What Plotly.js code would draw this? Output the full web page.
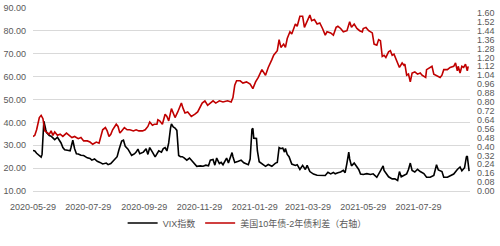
<!DOCTYPE html>
<html><head><meta charset="utf-8">
<script src="https://cdn.plot.ly/plotly-3.0.1.min.js"></script>
<style>html,body{margin:0;padding:0;background:#fff}#chart{width:500px;height:246px}</style>
</head><body><div id="chart"></div>
<script>
const vixDates = ['2020-05-29','2020-05-31','2020-06-02','2020-06-05','2020-06-07','2020-06-08','2020-06-10','2020-06-12','2020-06-13','2020-06-16','2020-06-18','2020-06-20','2020-06-22','2020-06-25','2020-06-27','2020-06-29','2020-07-01','2020-07-03','2020-07-06','2020-07-09','2020-07-10','2020-07-12','2020-07-14','2020-07-16','2020-07-18','2020-07-21','2020-07-24','2020-07-28','2020-07-31','2020-08-02','2020-08-05','2020-08-08','2020-08-11','2020-08-14','2020-08-18','2020-08-20','2020-08-23','2020-08-27','2020-08-30','2020-09-01','2020-09-04','2020-09-06','2020-09-08','2020-09-11','2020-09-15','2020-09-18','2020-09-20','2020-09-22','2020-09-24','2020-09-28','2020-10-01','2020-10-03','2020-10-05','2020-10-08','2020-10-11','2020-10-15','2020-10-18','2020-10-20','2020-10-22','2020-10-24','2020-10-26','2020-10-28','2020-10-29','2020-10-31','2020-11-02','2020-11-04','2020-11-06','2020-11-08','2020-11-10','2020-11-12','2020-11-15','2020-11-18','2020-11-20','2020-11-22','2020-11-26','2020-11-30','2020-12-03','2020-12-06','2020-12-09','2020-12-11','2020-12-14','2020-12-16','2020-12-18','2020-12-21','2020-12-23','2020-12-25','2020-12-27','2020-12-29','2020-12-31','2021-01-04','2021-01-05','2021-01-07','2021-01-11','2021-01-14','2021-01-17','2021-01-20','2021-01-22','2021-01-24','2021-01-26','2021-01-27','2021-01-28','2021-01-31','2021-02-01','2021-02-03','2021-02-06','2021-02-10','2021-02-13','2021-02-17','2021-02-21','2021-02-23','2021-02-25','2021-02-27','2021-03-01','2021-03-03','2021-03-04','2021-03-06','2021-03-08','2021-03-11','2021-03-15','2021-03-17','2021-03-20','2021-03-23','2021-03-26','2021-03-28','2021-03-31','2021-04-04','2021-04-08','2021-04-11','2021-04-15','2021-04-17','2021-04-20','2021-04-23','2021-04-26','2021-04-28','2021-05-01','2021-05-04','2021-05-07','2021-05-09','2021-05-11','2021-05-13','2021-05-14','2021-05-16','2021-05-19','2021-05-21','2021-05-24','2021-05-26','2021-05-29','2021-06-02','2021-06-06','2021-06-09','2021-06-13','2021-06-17','2021-06-20','2021-06-21','2021-06-26','2021-06-30','2021-07-03','2021-07-06','2021-07-08','2021-07-10','2021-07-13','2021-07-16','2021-07-18','2021-07-20','2021-07-22','2021-07-25','2021-07-28','2021-07-31','2021-08-04','2021-08-07','2021-08-11','2021-08-15','2021-08-18','2021-08-20','2021-08-24','2021-08-26','2021-08-30','2021-09-02','2021-09-06','2021-09-10','2021-09-13','2021-09-15','2021-09-18','2021-09-20','2021-09-21','2021-09-23'];
const vixValues = [27.7,27.5,26.5,25.2,24.8,26,40.5,37,35.5,34.2,34,33.2,32.4,33.5,32.5,31,29,28,27.8,27.6,29,32.2,28.5,26.3,26.2,25.6,25.5,24.5,24.2,23.5,24,23,22.5,21.8,22.2,21.5,22,23.5,25,28,31.8,32.2,29.5,28.3,25.6,26.2,27,28.3,26.3,27,28.5,26,29,27,24.9,27.6,27,28.5,29,27.5,31,37.5,39.3,38,37.5,36.5,25.5,25,25,24.5,23.5,24.4,23.5,22.2,20.8,21,20.8,21.3,21,23.5,23.8,21.3,24.4,22,22.5,21.5,22.8,24.4,22.3,26.8,25,22.5,23,23.5,22.3,22,21.5,24,37,37.4,33.1,33,27.6,22.8,21.8,20.8,21.6,20.8,22.2,22.5,29,28.5,28.8,27,28.6,26,25,21.8,21.2,21.5,19.4,21.2,19.4,21.2,18.5,17.4,16.9,16.8,16.8,16.8,18.2,17.5,18.1,17.5,18,18.3,19,18,22.2,27,24,21,22.2,21.2,19.4,17.4,17.2,17.6,17.2,17.5,16,18.8,21,19,16.2,15.3,15.3,14.6,18.5,16.2,17,17.5,19.4,22.2,19,18.3,19.5,18.5,17.6,16,16,16.8,21.5,19.2,18.5,16,16,16.5,17.4,19.4,20.5,18.8,20.2,24.9,25.3,18.7];

const spreadDates = ['2020-05-29','2020-05-31','2020-06-02','2020-06-05','2020-06-07','2020-06-09','2020-06-11','2020-06-13','2020-06-16','2020-06-18','2020-06-20','2020-06-22','2020-06-25','2020-06-28','2020-07-01','2020-07-05','2020-07-08','2020-07-11','2020-07-14','2020-07-18','2020-07-21','2020-07-24','2020-07-28','2020-07-31','2020-08-03','2020-08-07','2020-08-10','2020-08-12','2020-08-14','2020-08-17','2020-08-19','2020-08-21','2020-08-23','2020-08-25','2020-08-29','2020-08-31','2020-09-02','2020-09-04','2020-09-07','2020-09-10','2020-09-13','2020-09-17','2020-09-20','2020-09-23','2020-09-27','2020-09-30','2020-10-03','2020-10-05','2020-10-08','2020-10-10','2020-10-13','2020-10-14','2020-10-16','2020-10-19','2020-10-22','2020-10-24','2020-10-26','2020-10-29','2020-10-31','2020-11-02','2020-11-05','2020-11-09','2020-11-11','2020-11-13','2020-11-16','2020-11-20','2020-11-24','2020-11-27','2020-12-02','2020-12-05','2020-12-08','2020-12-11','2020-12-14','2020-12-17','2020-12-21','2020-12-25','2020-12-30','2021-01-03','2021-01-05','2021-01-07','2021-01-09','2021-01-13','2021-01-16','2021-01-20','2021-01-24','2021-01-27','2021-01-30','2021-02-02','2021-02-06','2021-02-10','2021-02-13','2021-02-17','2021-02-19','2021-02-23','2021-02-25','2021-02-27','2021-03-02','2021-03-04','2021-03-06','2021-03-09','2021-03-11','2021-03-15','2021-03-17','2021-03-20','2021-03-23','2021-03-25','2021-03-28','2021-03-31','2021-04-02','2021-04-05','2021-04-08','2021-04-11','2021-04-14','2021-04-17','2021-04-19','2021-04-23','2021-04-26','2021-04-29','2021-05-01','2021-05-04','2021-05-07','2021-05-11','2021-05-14','2021-05-16','2021-05-19','2021-05-22','2021-05-25','2021-05-28','2021-05-29','2021-06-01','2021-06-04','2021-06-08','2021-06-10','2021-06-13','2021-06-15','2021-06-17','2021-06-19','2021-06-21','2021-06-23','2021-06-26','2021-06-28','2021-06-30','2021-07-02','2021-07-03','2021-07-05','2021-07-08','2021-07-11','2021-07-13','2021-07-14','2021-07-16','2021-07-18','2021-07-20','2021-07-22','2021-07-25','2021-07-28','2021-07-31','2021-08-02','2021-08-06','2021-08-07','2021-08-11','2021-08-13','2021-08-15','2021-08-18','2021-08-22','2021-08-24','2021-08-26','2021-08-30','2021-09-02','2021-09-06','2021-09-08','2021-09-10','2021-09-11','2021-09-13','2021-09-15','2021-09-17','2021-09-19','2021-09-21','2021-09-22'];
const spreadValues = [0.49,0.50,0.55,0.66,0.68,0.65,0.54,0.53,0.51,0.54,0.50,0.53,0.50,0.51,0.49,0.52,0.50,0.48,0.49,0.47,0.48,0.45,0.45,0.44,0.42,0.44,0.43,0.49,0.55,0.57,0.54,0.49,0.51,0.55,0.60,0.58,0.52,0.54,0.57,0.55,0.55,0.54,0.55,0.54,0.54,0.55,0.58,0.62,0.59,0.60,0.60,0.64,0.63,0.60,0.69,0.67,0.63,0.74,0.70,0.66,0.71,0.79,0.74,0.70,0.71,0.67,0.69,0.71,0.79,0.81,0.77,0.79,0.81,0.79,0.81,0.80,0.81,0.80,0.84,0.95,0.99,0.99,0.97,0.98,0.96,0.92,0.98,1.02,1.09,1.04,1.11,1.18,1.22,1.26,1.36,1.29,1.32,1.29,1.37,1.43,1.41,1.50,1.48,1.57,1.57,1.47,1.52,1.58,1.53,1.54,1.50,1.51,1.46,1.40,1.43,1.42,1.40,1.47,1.48,1.46,1.43,1.44,1.52,1.47,1.50,1.46,1.44,1.43,1.46,1.47,1.44,1.42,1.32,1.31,1.36,1.35,1.21,1.22,1.20,1.25,1.26,1.22,1.23,1.21,1.16,1.11,1.15,1.13,1.14,1.04,1.05,0.98,1.06,1.07,1.05,1.06,1.04,1.02,1.09,1.11,1.12,1.05,1.04,1.02,1.04,1.09,1.09,1.11,1.12,1.15,1.08,1.12,1.06,1.12,1.11,1.14,1.08,1.12];

const xTickDates = ['2020-05-29','2020-07-29','2020-09-29','2020-11-29','2021-01-29','2021-03-29','2021-05-29','2021-07-29'];
const xTickLabels = ['2020-05-29','2020-07-29','2020-09-29','2020-11-29','2021-01-29','2021-03-29','2021-05-29','2021-07-29'];
const seriesNames = ['VIX指数','美国10年债-2年债利差（右轴）'];

const FONT = 'Liberation Sans, Arial, "Noto Sans CJK SC", sans-serif';
const traces = [
  {x: vixDates, y: vixValues, name: seriesNames[0], type: 'scatter', mode: 'lines',
   line: {color: '#000000', width: 1.6}, yaxis: 'y'},
  {x: spreadDates, y: spreadValues, name: seriesNames[1], type: 'scatter', mode: 'lines',
   line: {color: '#c00000', width: 1.6}, yaxis: 'y2'}
];
const layout = {
  width: 500, height: 246,
  margin: {l: 33, r: 30, t: 8, b: 43},
  paper_bgcolor: '#ffffff', plot_bgcolor: '#ffffff',
  font: {family: FONT, size: 9, color: '#595959'},
  showlegend: true,
  legend: {orientation: 'h', x: 0.49, xanchor: 'center', y: -0.175, yanchor: 'middle',
           font: {family: FONT, size: 9, color: '#595959'}, itemgap: 8, bgcolor: 'rgba(0,0,0,0)'},
  xaxis: {type: 'date', range: ['2020-05-29', '2021-09-24'],
          tickmode: 'array', tickvals: xTickDates, ticktext: xTickLabels,
          showgrid: false, zeroline: false, showline: true, linecolor: '#d9d9d9', linewidth: 1,
          ticks: '', ticklabelstandoff: 7, tickfont: {size: 9, color: '#595959'}},
  yaxis: {range: [10, 90], dtick: 10, tick0: 10, tickformat: '.2f',
          showgrid: true, gridcolor: '#d9d9d9', gridwidth: 1, zeroline: false, showline: false,
          ticks: '', ticklabelstandoff: 6, tickfont: {size: 9, color: '#595959'}},
  yaxis2: {overlaying: 'y', side: 'right', range: [0, 1.644], dtick: 0.08, tick0: 0, tickformat: '.2f',
           showgrid: false, zeroline: false, showline: false,
           ticks: '', ticklabelstandoff: 6, tickfont: {size: 9, color: '#595959'}}
};
Plotly.newPlot('chart', traces, layout, {staticPlot: true, displayModeBar: false});
</script>
</body></html>
